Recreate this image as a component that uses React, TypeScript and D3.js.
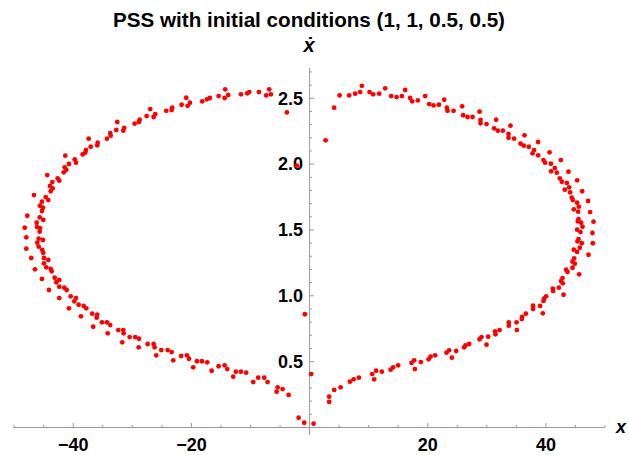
import React from "react";
import * as d3 from "d3";

const TITLE = "PSS with initial conditions  (1, 1, 0.5, 0.5)";
const X_LABEL = "x";
const Y_LABEL = "ẋ";

const xMajorTicks = [-40, -20, 20, 40];
const xMinorTicks = [-50, -45, -35, -30, -25, -15, -10, -5, 5, 10, 15, 25, 30, 35, 45, 50];
const yMajorTicks = [0.5, 1.0, 1.5, 2.0, 2.5];
const yTickLabels = ["0.5", "1.0", "1.5", "2.0", "2.5"];
const xTickLabels = ["−40", "−20", "20", "40"];

// left branch (x < 0): [x, xdot]
const leftBranch: [number, number][] = [
  [-20.88, 2.504], [-20.25, 2.466], [-20.64, 2.443], [-21.66, 2.451], [-23.25, 2.428],
  [-23.35, 2.411], [-24.26, 2.405], [-26.97, 2.418], [-26.12, 2.38], [-26.4, 2.358],
  [-27.58, 2.365], [-28.76, 2.337], [-28.88, 2.32], [-29.61, 2.307], [-32.55, 2.32],
  [-31.37, 2.276], [-31.54, 2.254], [-32.72, 2.259], [-33.74, 2.236], [-33.67, 2.216],
  [-34.3, 2.193], [-37.39, 2.193], [-35.87, 2.163], [-35.94, 2.143], [-37.05, 2.132],
  [-37.85, 2.107], [-37.97, 2.087], [-38.41, 2.074], [-41.35, 2.064], [-39.76, 2.036],
  [-39.54, 2.011], [-40.73, 2.001], [-41.45, 1.976], [-41.18, 1.957], [-41.62, 1.938],
  [-44.4, 1.917], [-42.64, 1.892], [-42.37, 1.874], [-43.55, 1.864], [-43.94, 1.834],
  [-43.48, 1.816], [-43.82, 1.794], [-46.65, 1.765], [-44.67, 1.75], [-44.23, 1.727],
  [-45.3, 1.715], [-45.63, 1.684], [-45.13, 1.669], [-45.3, 1.644], [-47.78, 1.608],
  [-45.68, 1.596], [-45.08, 1.576], [-46.19, 1.555], [-46.14, 1.522], [-48.22, 1.517],
  [-45.63, 1.513], [-45.68, 1.487], [-47.95, 1.444], [-45.85, 1.434], [-45.13, 1.424],
  [-46.09, 1.403], [-45.85, 1.373], [-47.95, 1.358], [-45.25, 1.348], [-45.08, 1.327],
  [-47.11, 1.287], [-44.96, 1.287], [-44.23, 1.272], [-44.96, 1.247], [-46.48, 1.201],
  [-44.57, 1.216], [-43.82, 1.204], [-43.65, 1.186], [-45.3, 1.128], [-43.15, 1.137],
  [-42.37, 1.12], [-42.88, 1.103], [-42.37, 1.069], [-41.52, 1.062], [-41.12, 1.044],
  [-44.11, 1.044], [-42.37, 0.983], [-40.44, 0.996], [-39.54, 0.983], [-39.83, 0.958],
  [-39.09, 0.932], [-38.24, 0.923], [-37.8, 0.905], [-40.73, 0.905], [-38.7, 0.844],
  [-36.79, 0.864], [-35.94, 0.856], [-36.04, 0.834], [-35.14, 0.799], [-34.3, 0.799],
  [-33.74, 0.778], [-36.62, 0.765], [-34.18, 0.715], [-32.39, 0.74], [-31.54, 0.74],
  [-31.47, 0.715], [-31.71, 0.647], [-30.46, 0.687], [-29.51, 0.687], [-28.88, 0.674],
  [-28.93, 0.609], [-27.41, 0.634], [-26.4, 0.634], [-26.23, 0.609], [-25.96, 0.548],
  [-25.11, 0.588], [-24.03, 0.588], [-23.35, 0.573], [-23.08, 0.51], [-21.73, 0.543],
  [-20.76, 0.548], [-20.42, 0.522], [-19.7, 0.457], [-19.07, 0.503], [-18.22, 0.503],
  [-17.33, 0.495], [-16.58, 0.431], [-15.4, 0.465], [-14.38, 0.472], [-13.94, 0.444],
  [-12.93, 0.386], [-12.47, 0.424], [-11.62, 0.424], [-10.73, 0.416], [-9.54, 0.345],
  [-8.7, 0.378], [-7.68, 0.378], [-7.11, 0.345], [-5.58, 0.272], [-5.41, 0.305],
  [-4.57, 0.292], [-3.55, 0.247], [-1.86, 0.074], [-0.91, 0.036], [-0.8, 0.86],
  [-18.17, 2.477], [-17.38, 2.492], [-16.87, 2.502], [-15.4, 2.517], [-14.38, 2.502],
  [-14.28, 2.568], [-13.77, 2.525], [-11.62, 2.53], [-10.56, 2.538], [-10.22, 2.547],
  [-8.58, 2.547], [-7.34, 2.522], [-6.84, 2.568], [-6.55, 2.53], [-3.84, 2.393],
  [-2.15, 1.988],
];

// right branch (x > 0): [x, xdot]
const rightBranch: [number, number][] = [
  [2.71, 2.181], [4.16, 2.428], [5.08, 2.522], [6.7, 2.522], [7.72, 2.535],
  [8.56, 2.547], [8.85, 2.595], [10.15, 2.547], [10.76, 2.53], [11.78, 2.535],
  [12.79, 2.576], [13.81, 2.517], [14.72, 2.509], [15.62, 2.517], [16.18, 2.563],
  [17.02, 2.502], [17.36, 2.477], [18.32, 2.484], [19.56, 2.517], [20.24, 2.456],
  [20.98, 2.446], [21.88, 2.451], [22.78, 2.489], [23.23, 2.428], [23.35, 2.405],
  [24.37, 2.405], [25.82, 2.439], [25.99, 2.371], [26.73, 2.358], [27.58, 2.358],
  [28.77, 2.398], [28.93, 2.335], [28.93, 2.31], [29.95, 2.304], [31.57, 2.337],
  [31.24, 2.272], [31.86, 2.254], [32.71, 2.254], [34.01, 2.292], [33.67, 2.229],
  [33.67, 2.2], [34.62, 2.193], [36.38, 2.219], [35.7, 2.155], [36.26, 2.14],
  [37.11, 2.132], [38.68, 2.168], [38.0, 2.107], [37.73, 2.082], [38.68, 2.067],
  [40.61, 2.09], [39.59, 2.031], [39.86, 2.011], [40.83, 2.003], [42.52, 2.031],
  [41.51, 1.97], [40.88, 1.945], [41.84, 1.935], [43.82, 1.942], [42.35, 1.892],
  [42.69, 1.866], [43.54, 1.857], [45.28, 1.877], [43.93, 1.824], [43.2, 1.806],
  [44.1, 1.786], [46.13, 1.794], [44.38, 1.745], [44.55, 1.727], [45.28, 1.707],
  [47.14, 1.72], [45.57, 1.677], [44.72, 1.657], [45.45, 1.639], [47.48, 1.636],
  [45.52, 1.583], [45.4, 1.566], [45.96, 1.555], [48.05, 1.563], [46.19, 1.525],
  [45.28, 1.502], [45.85, 1.484], [47.88, 1.477], [45.52, 1.431], [45.35, 1.414],
  [46.07, 1.399], [47.94, 1.399], [45.74, 1.365], [44.72, 1.35], [45.28, 1.333],
  [47.21, 1.312], [44.77, 1.285], [44.5, 1.259], [44.89, 1.244], [44.5, 1.213],
  [43.42, 1.198], [43.65, 1.181], [45.62, 1.163], [42.81, 1.135], [42.57, 1.112],
  [42.86, 1.095], [42.18, 1.062], [41.17, 1.054], [41.22, 1.036], [42.98, 1.008],
  [40.03, 0.996], [39.69, 0.978], [39.59, 0.961], [39.02, 0.923], [37.83, 0.925],
  [37.83, 0.9], [39.48, 0.867], [36.6, 0.864], [35.97, 0.839], [35.92, 0.824],
  [35.03, 0.799], [33.72, 0.799], [33.72, 0.773], [35.08, 0.74], [32.15, 0.74],
  [31.4, 0.73], [31.47, 0.708], [30.22, 0.689], [29.1, 0.687], [28.76, 0.67],
  [29.95, 0.629], [27.01, 0.634], [26.4, 0.624], [26.16, 0.609], [24.81, 0.581],
  [23.62, 0.586], [23.18, 0.568], [24.08, 0.53], [21.25, 0.548], [20.47, 0.538],
  [0.27, 0.406], [0.68, 0.029], [3.32, 0.234], [3.32, 0.194], [4.16, 0.285],
  [5.25, 0.305], [6.82, 0.348], [7.45, 0.366], [8.34, 0.378], [10.59, 0.406],
  [11.27, 0.431], [10.93, 0.366], [12.23, 0.424], [13.71, 0.439], [14.15, 0.457],
  [14.99, 0.472], [17.26, 0.49], [17.7, 0.51], [17.82, 0.444], [18.83, 0.497],
  [20.14, 0.518],
];

const W = 629;
const H = 455;

export default function App() {
  const x = d3.scaleLinear().domain([-50.2, 50]).range([13, 605]);
  const y = d3.scaleLinear().domain([-0.057, 2.73]).range([435, 68]);
  const x0 = x(0);
  const y0 = y(0);
  const axisColor = "#9a9a9a";
  const font = "'Liberation Sans', Arial, 'DejaVu Sans', sans-serif";
  const yMinor = d3.range(1, 28).map((i) => i / 10).filter((v) => Math.abs(v * 2 - Math.round(v * 2)) > 1e-6);
  const points = [...leftBranch, ...rightBranch];

  return (
    <svg
      width={W}
      height={H}
      style={{ position: "absolute", left: 0, top: 0, background: "#fff" }}
      fontFamily={font}
    >
      <rect x={0} y={0} width={W} height={H} fill="#fff" />
      <text
        x={309}
        y={27}
        textAnchor="middle"
        fontSize={21}
        fontWeight="bold"
        textLength={392}
        lengthAdjust="spacingAndGlyphs"
      >
        {TITLE}
      </text>

      {/* axes */}
      <line x1={x(-50.2)} x2={x(50)} y1={y0} y2={y0} stroke={axisColor} strokeWidth={1} />
      <line x1={x0} x2={x0} y1={y(-0.057)} y2={y(2.73)} stroke={axisColor} strokeWidth={1} />

      {xMajorTicks.map((t) => (
        <line key={"xM" + t} x1={x(t)} x2={x(t)} y1={y0} y2={y0 - 4.5} stroke={axisColor} />
      ))}
      {xMinorTicks.map((t) => (
        <line key={"xm" + t} x1={x(t)} x2={x(t)} y1={y0} y2={y0 - 2.5} stroke={axisColor} />
      ))}
      {yMajorTicks.map((t) => (
        <line key={"yM" + t} x1={x0} x2={x0 + 4.5} y1={y(t)} y2={y(t)} stroke={axisColor} />
      ))}
      {yMinor.map((t) => (
        <line key={"ym" + t} x1={x0} x2={x0 + 2.5} y1={y(t)} y2={y(t)} stroke={axisColor} />
      ))}

      {xMajorTicks.map((t, i) => (
        <text key={"xl" + t} x={x(t)} y={451} textAnchor="middle" fontSize={18} fontWeight="bold">
          {xTickLabels[i]}
        </text>
      ))}
      {yMajorTicks.map((t, i) => (
        <text
          key={"yl" + t}
          x={x0 - 6.5}
          y={y(t)}
          dy="0.35em"
          textAnchor="end"
          fontSize={18}
          fontWeight="bold"
        >
          {yTickLabels[i]}
        </text>
      ))}

      <text x={309} y={52} textAnchor="middle" fontSize={20} fontWeight="bold" fontStyle="italic">
        {Y_LABEL}
      </text>
      <text x={616} y={433} textAnchor="start" fontSize={18} fontWeight="bold" fontStyle="italic">
        {X_LABEL}
      </text>

      {points.map((p, i) => (
        <circle key={i} cx={x(p[0])} cy={y(p[1])} r={2.4} fill="#ff0000" />
      ))}
    </svg>
  );
}
